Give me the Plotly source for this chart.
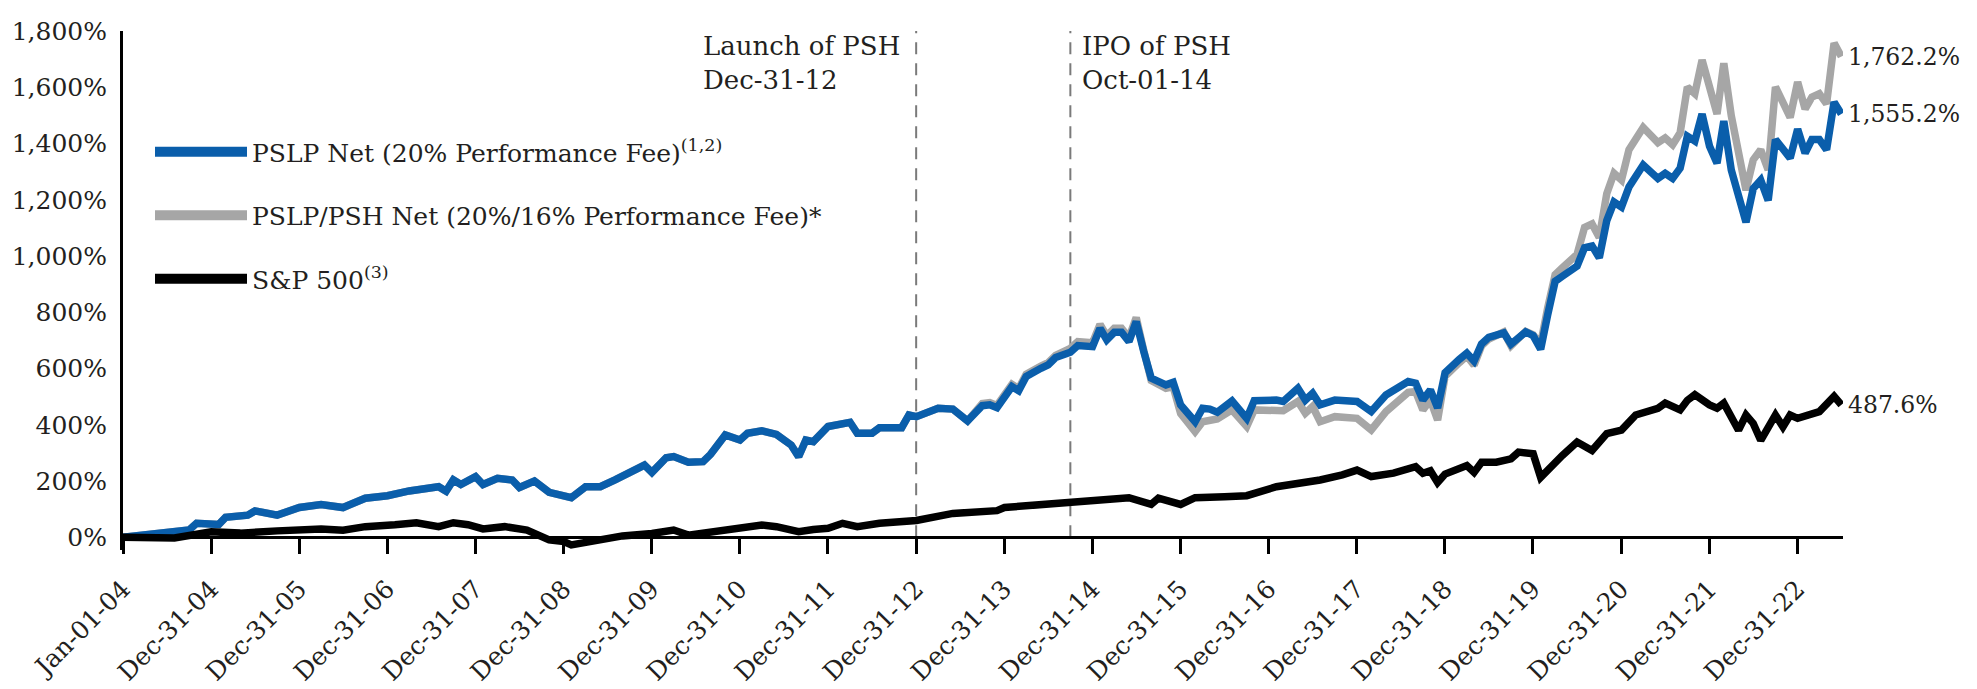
import plotly.graph_objects as go

# ---------------- data ----------------
pslp_dates = [
    "2004-01", "2004-06", "2004-10", "2004-11",
    "2005-02", "2005-03", "2005-06", "2005-07", "2005-10",
    "2006-01", "2006-04", "2006-07", "2006-10",
    "2007-01", "2007-04", "2007-08", "2007-09", "2007-10", "2007-11",
    "2008-01", "2008-02", "2008-04", "2008-06", "2008-07", "2008-09", "2008-11",
    "2009-02", "2009-04", "2009-06", "2009-08", "2009-10", "2009-12",
    "2010-01", "2010-03", "2010-04", "2010-06", "2010-08", "2010-09", "2010-11",
    "2011-01", "2011-02", "2011-04", "2011-06", "2011-08", "2011-09", "2011-10", "2011-11",
    "2012-01", "2012-04", "2012-05", "2012-07", "2012-08", "2012-11", "2012-12",
    "2013-01", "2013-04", "2013-06", "2013-08", "2013-10", "2013-11", "2013-12",
    "2014-02", "2014-03", "2014-04", "2014-06", "2014-07", "2014-08", "2014-10", "2014-11",
    "2015-01", "2015-02", "2015-03", "2015-04", "2015-05", "2015-06", "2015-07", "2015-08", "2015-09", "2015-11", "2015-12",
    "2016-01", "2016-03", "2016-04", "2016-05", "2016-06", "2016-08", "2016-10", "2016-11",
    "2017-02", "2017-03", "2017-05", "2017-06", "2017-07", "2017-08", "2017-10",
    "2018-01", "2018-03", "2018-05", "2018-08", "2018-09", "2018-10", "2018-11", "2018-12",
    "2019-01", "2019-03", "2019-04", "2019-05", "2019-06", "2019-07", "2019-09", "2019-10", "2019-12",
    "2020-01", "2020-02", "2020-03", "2020-04", "2020-05", "2020-07", "2020-08", "2020-09", "2020-10", "2020-11", "2020-12",
    "2021-01", "2021-02", "2021-04", "2021-06", "2021-07", "2021-08", "2021-09", "2021-10", "2021-11", "2021-12",
    "2022-01", "2022-02", "2022-03", "2022-04", "2022-06", "2022-07", "2022-08", "2022-09", "2022-10", "2022-12",
    "2023-01", "2023-02", "2023-03", "2023-04", "2023-05", "2023-06", "2023-07",
]

pslp_net = [
    0, 12, 26, 50,
    46, 71, 79, 94, 79,
    106, 117, 106, 139,
    148, 165, 180, 164, 204, 188,
    216, 188, 210, 204, 177, 200, 160,
    141, 180, 180, 204, 228, 257,
    231, 283, 287, 267, 269, 295, 364,
    346, 370, 379, 366, 328, 287, 346, 340,
    394, 409, 370, 370, 390, 390, 435,
    429, 459, 456, 414, 468, 471, 461,
    536, 521, 572, 601, 613, 639, 658, 682,
    678, 743, 702, 729, 729, 696, 767, 661, 566, 542, 551,
    471, 411, 459, 456, 445, 485, 423, 486,
    488, 483, 530, 488, 512, 471, 488,
    483, 447, 506, 554, 548, 488, 524, 460,
    585, 633, 655, 627, 687, 711, 727, 687, 730,
    717, 669, 790, 910, 928, 964, 1030, 1036, 994, 1126, 1192,
    1174, 1246, 1324, 1276, 1294, 1276, 1312, 1426, 1409, 1505,
    1390, 1330, 1480, 1306, 1120, 1240, 1270, 1198, 1414, 1348,
    1451, 1366, 1414, 1414, 1378, 1547, 1505,
]

pslp_psh_net = [
    0, 12, 26, 50,
    46, 71, 79, 94, 79,
    106, 117, 106, 139,
    148, 165, 180, 164, 204, 188,
    216, 188, 210, 204, 177, 200, 160,
    141, 180, 180, 204, 228, 257,
    231, 283, 287, 267, 269, 295, 364,
    346, 370, 379, 366, 328, 287, 346, 340,
    394, 409, 370, 370, 390, 390, 435,
    429, 459, 456, 414, 476, 479, 469,
    544, 529, 580, 609, 621, 647, 672, 696,
    692, 757, 716, 743, 743, 710, 781, 665, 558, 530, 535,
    440, 376, 411, 415, 421, 453, 394, 453,
    455, 450, 483, 441, 465, 411, 429,
    423, 382, 447, 515, 518, 453, 488, 417,
    573, 621, 645, 612, 681, 705, 730, 681, 732,
    720, 687, 815, 934, 958, 1006, 1102, 1114, 1066, 1222, 1294,
    1270, 1378, 1457, 1403, 1420, 1396, 1438, 1601, 1577, 1697,
    1595, 1505, 1685, 1499, 1234, 1342, 1378, 1306, 1601, 1493,
    1619, 1523, 1565, 1577, 1541, 1757, 1709,
]

sp_dates = [
    "2004-01", "2004-05", "2004-08",
    "2005-01", "2005-05", "2005-10",
    "2006-04", "2006-07", "2006-10",
    "2007-02", "2007-05", "2007-08", "2007-10", "2007-12",
    "2008-02", "2008-05", "2008-08", "2008-11",
    "2009-01", "2009-02", "2009-06", "2009-09",
    "2010-01", "2010-04", "2010-06", "2010-08", "2010-11",
    "2011-02", "2011-04", "2011-06", "2011-09", "2011-11",
    "2012-01", "2012-03", "2012-05", "2012-08",
    "2013-01", "2013-06", "2013-08", "2013-11", "2013-12",
    "2014-01", "2014-05", "2014-08", "2014-10",
    "2015-01", "2015-03", "2015-06", "2015-09", "2015-10",
    "2016-01", "2016-03", "2016-07", "2016-10",
    "2017-02", "2017-05", "2017-08", "2017-11",
    "2018-01", "2018-03", "2018-06", "2018-09", "2018-10", "2018-11", "2018-12",
    "2019-01", "2019-04", "2019-05", "2019-06", "2019-08", "2019-10", "2019-11",
    "2020-01", "2020-02", "2020-04", "2020-05", "2020-07", "2020-09", "2020-11",
    "2021-01", "2021-03", "2021-06", "2021-07", "2021-09", "2021-10", "2021-11",
    "2022-01", "2022-02", "2022-03", "2022-04", "2022-05", "2022-06", "2022-07", "2022-08", "2022-10", "2022-11", "2022-12",
    "2023-01", "2023-03", "2023-04", "2023-06", "2023-07",
]

sp500 = [
    0, 2, -2,
    20, 15, 23,
    30, 25, 38,
    45, 52, 38, 52, 45,
    30, 38, 26, -9,
    -15, -27, -9, 5,
    14, 26, 8, 15, 28,
    42, 44, 38, 20, 28,
    32, 50, 38, 50,
    60, 85, 90, 97, 95,
    106, 113, 120, 127,
    132, 136, 141, 117, 139,
    117, 141, 144, 148,
    180, 190, 204, 222,
    239, 216, 228, 251, 228, 237, 195,
    225, 255, 231, 267, 267, 279, 303,
    297, 213, 267, 291, 339, 309, 369,
    381, 435, 459, 477, 453, 487, 507,
    471, 459, 477, 423, 381, 435, 405, 345, 435, 393, 435,
    423, 441, 447, 501, 471,
]

series_names = [
    "PSLP Net (20% Performance Fee)<sup>(1,2)</sup>",
    "PSLP/PSH Net (20%/16% Performance Fee)*",
    "S&amp;P 500<sup>(3)</sup>",
]
end_labels = ["1,555.2%", "1,762.2%", "487.6%"]

event_dates = ["2012-12-31", "2014-10-01"]
event_labels = ["Launch of PSH<br>Dec-31-12", "IPO of PSH<br>Oct-01-14"]

x_tick_dates = [
    "2004-01-01", "2004-12-31", "2005-12-31", "2006-12-31", "2007-12-31",
    "2008-12-31", "2009-12-31", "2010-12-31", "2011-12-31", "2012-12-31",
    "2013-12-31", "2014-12-31", "2015-12-31", "2016-12-31", "2017-12-31",
    "2018-12-31", "2019-12-31", "2020-12-31", "2021-12-31", "2022-12-31",
]
x_tick_labels = [
    "Jan-01-04", "Dec-31-04", "Dec-31-05", "Dec-31-06", "Dec-31-07",
    "Dec-31-08", "Dec-31-09", "Dec-31-10", "Dec-31-11", "Dec-31-12",
    "Dec-31-13", "Dec-31-14", "Dec-31-15", "Dec-31-16", "Dec-31-17",
    "Dec-31-18", "Dec-31-19", "Dec-31-20", "Dec-31-21", "Dec-31-22",
]
y_tick_vals = [0, 200, 400, 600, 800, 1000, 1200, 1400, 1600, 1800]
y_tick_labels = ["0%", "200%", "400%", "600%", "800%", "1,000%", "1,200%",
                 "1,400%", "1,600%", "1,800%"]

assert len(pslp_dates) == len(pslp_net) == len(pslp_psh_net)
assert len(sp_dates) == len(sp500)

# ---------------- styling ----------------
FONT = "DejaVu Serif"
TXT = "#231f20"
BLUE = "#0a5eab"
GRAY = "#a6a6a6"
BLACK = "#000000"
LW = 7.5
y_range = [-45, 1800]
x_range = ["2004-01-01", "2023-07-08"]

fig = go.Figure()
# data lines (drawn gray, then blue, then black)
fig.add_trace(go.Scatter(x=pslp_dates, y=pslp_psh_net, mode="lines", showlegend=False,
                         line=dict(color=GRAY, width=LW), name=series_names[1]))
fig.add_trace(go.Scatter(x=pslp_dates, y=pslp_net, mode="lines", showlegend=False,
                         line=dict(color=BLUE, width=LW), name=series_names[0]))
fig.add_trace(go.Scatter(x=sp_dates, y=sp500, mode="lines", showlegend=False,
                         line=dict(color=BLACK, width=LW), name=series_names[2]))

# legend entries (thicker key lines, like the reference)
for nm, col, grp in zip(series_names, [BLUE, GRAY, BLACK], ["a", "b", "c"]):
    fig.add_trace(go.Scatter(x=[None], y=[None], mode="lines", name=nm,
                             line=dict(color=col, width=10), legendgroup=grp,
                             hoverinfo="skip"))

# event lines and labels
for d, lab, side in zip(event_dates, event_labels, ["right", "left"]):
    fig.add_shape(type="line", x0=d, x1=d, y0=0, y1=y_range[1], xref="x", yref="y",
                  line=dict(color="#7a7a7a", width=2, dash="12px,9px"), layer="below")
    fig.add_annotation(x=d, y=y_range[1], xref="x", yref="y", text=lab, showarrow=False,
                       xanchor=side, yanchor="top", align="left",
                       xshift=-14 if side == "right" else 10, yshift=2,
                       font=dict(family=FONT, size=26, color=TXT))

# end-value labels
ends = [(pslp_dates[-1], pslp_net[-1], end_labels[0]),
        (pslp_dates[-1], pslp_psh_net[-1], end_labels[1]),
        (sp_dates[-1], sp500[-1], end_labels[2])]
for xd, yv, lab in ends:
    fig.add_annotation(x=xd, y=yv, xref="x", yref="y", text=lab, showarrow=False,
                       xanchor="left", yanchor="middle", xshift=5,
                       font=dict(family=FONT, size=23.5, color=TXT))

fig.update_layout(
    width=1977, height=689,
    margin=dict(l=115, r=142, t=23, b=147, autoexpand=False),
    paper_bgcolor="white", plot_bgcolor="white",
    font=dict(family=FONT, size=25, color=TXT),
    showlegend=True,
    legend=dict(x=0.0157, y=0.811, xanchor="left", yanchor="top",
                bgcolor="rgba(0,0,0,0)", itemwidth=92, tracegroupgap=28,
                font=dict(family=FONT, size=25, color=TXT)),
    xaxis=dict(type="date", range=x_range, showgrid=False, zeroline=False,
               automargin=False,
               showline=True, linecolor=BLACK, linewidth=3,
               anchor="free", position=(0 - y_range[0]) / (y_range[1] - y_range[0]),
               ticks="outside", ticklen=15, tickwidth=3, tickcolor=BLACK,
               tickmode="array", tickvals=x_tick_dates, ticktext=x_tick_labels,
               tickangle=-45, ticklabelstandoff=10,
               tickfont=dict(family=FONT, size=25, color=TXT)),
    yaxis=dict(range=y_range, showgrid=False, zeroline=False, automargin=False,
               showline=True, linecolor=BLACK, linewidth=3, ticks="",
               tickmode="array", tickvals=y_tick_vals, ticktext=y_tick_labels,
               ticklabelstandoff=8, tickfont=dict(family=FONT, size=25, color=TXT)),
)

fig.write_html("out.html")
